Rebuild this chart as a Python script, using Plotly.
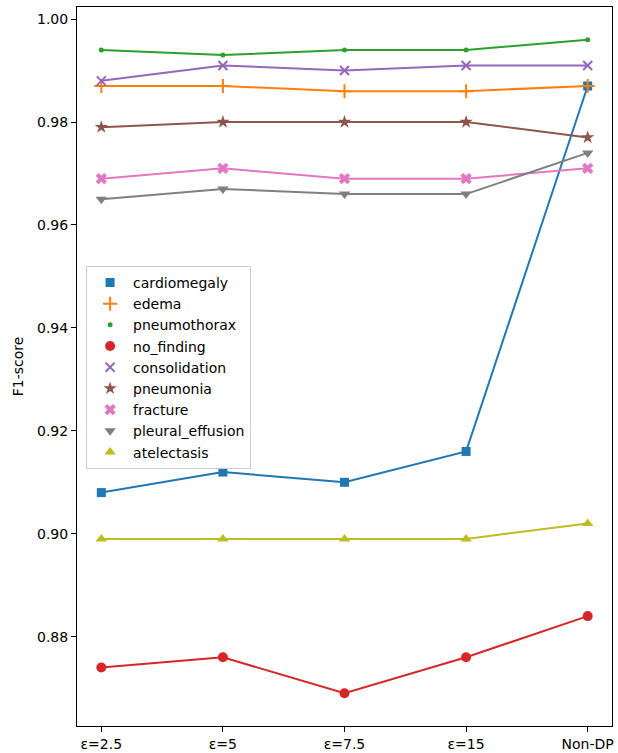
import plotly.graph_objects as go

categories = ["ε=2.5", "ε=5", "ε=7.5", "ε=15", "Non-DP"]

cardiomegaly = [0.908, 0.912, 0.910, 0.916, 0.987]
edema = [0.987, 0.987, 0.986, 0.986, 0.987]
pneumothorax = [0.994, 0.993, 0.994, 0.994, 0.996]
no_finding = [0.874, 0.876, 0.869, 0.876, 0.884]
consolidation = [0.988, 0.991, 0.990, 0.991, 0.991]
pneumonia = [0.979, 0.980, 0.980, 0.980, 0.977]
fracture = [0.969, 0.971, 0.969, 0.969, 0.971]
pleural_effusion = [0.965, 0.967, 0.966, 0.966, 0.974]
atelectasis = [0.899, 0.899, 0.899, 0.899, 0.902]

y_ticks = [0.88, 0.90, 0.92, 0.94, 0.96, 0.98, 1.00]

series = [
    ("cardiomegaly", cardiomegaly, "#1f77b4", "square", 9, False),
    ("edema", edema, "#ff7f0e", "cross-thin", 10, True),
    ("pneumothorax", pneumothorax, "#2ca02c", "circle", 5, False),
    ("no_finding", no_finding, "#d62728", "circle", 10, False),
    ("consolidation", consolidation, "#9467bd", "x-thin", 9, True),
    ("pneumonia", pneumonia, "#8c564b", "star", 10, False),
    ("fracture", fracture, "#e377c2", "x", 10, False),
    ("pleural_effusion", pleural_effusion, "#7f7f7f", "triangle-down", 10, False),
    ("atelectasis", atelectasis, "#bcbd22", "triangle-up", 10, False),
]

fig = go.Figure()
for name, vals, color, sym, size, thin in series:
    fig.add_trace(go.Scatter(
        x=categories, y=vals, mode="lines",
        line=dict(color=color, width=2), showlegend=False, hoverinfo="skip"))
    marker = dict(symbol=sym, size=size, color=color)
    if thin:
        marker["line"] = dict(color=color, width=2)
    else:
        marker["line"] = dict(width=0)
    fig.add_trace(go.Scatter(
        x=categories, y=vals, mode="markers", name=name, marker=marker))

font = dict(family="DejaVu Sans", size=14, color="black")

fig.update_layout(
    width=618, height=753,
    margin=dict(l=77, r=6, t=7, b=27),
    paper_bgcolor="white", plot_bgcolor="white",
    font=font,
    legend=dict(
        x=0.017, y=0.64, xanchor="left", yanchor="top",
        bgcolor="rgba(255,255,255,0.8)", bordercolor="#cccccc", borderwidth=1,
        font=dict(family="DejaVu Sans", size=14, color="black"),
        itemsizing="trace", itemwidth=36,
    ),
    xaxis=dict(
        type="category", range=[-0.2, 4.2],
        showgrid=False, zeroline=False,
        showline=True, linecolor="black", linewidth=1.1, mirror=True,
        ticks="outside", ticklen=5, tickwidth=1.1, tickcolor="black",
        automargin=False, tickfont=font,
    ),
    yaxis=dict(
        range=[0.86265, 1.00235],
        tickvals=y_ticks, tickformat=".2f",
        showgrid=False, zeroline=False,
        showline=True, linecolor="black", linewidth=1.1, mirror=True,
        ticks="outside", ticklen=5, tickwidth=1.1, tickcolor="black",
        automargin=False, tickfont=font,
        title=dict(text="F1-score", font=font, standoff=10),
    ),
)

fig.write_html(
    "out.html",
    config={"displayModeBar": False},
    post_script="document.body.style.margin='0';document.body.style.overflow='hidden';",
)
